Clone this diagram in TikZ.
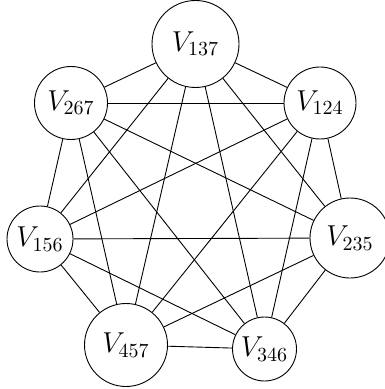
\documentclass[tikz,border=0pt]{standalone}
\begin{document}
\begin{tikzpicture}[x=0.5pt,y=-0.5pt,
  vtx/.style={circle,draw,line width=0.45pt,inner sep=1pt,font=\fontsize{14.4}{17}\selectfont},
  edge/.style={line width=0.45pt}]
\useasboundingbox (0,0) rectangle (384,389);
\node[vtx,minimum size=43.5pt] (v1) at (195.5,44) {$V_{137}$};
\node[vtx,minimum size=36pt]   (v2) at (320,103) {$V_{124}$};
\node[vtx,minimum size=40pt]   (v3) at (350,238) {$V_{235}$};
\node[vtx,minimum size=32pt]   (v4) at (264.5,349) {$V_{346}$};
\node[vtx,minimum size=41.5pt] (v5) at (126,345) {$V_{457}$};
\node[vtx,minimum size=33pt]   (v6) at (40,239) {$V_{156}$};
\node[vtx,minimum size=36.5pt] (v7) at (71,103) {$V_{267}$};
\foreach \i in {1,...,7}{
  \foreach \j in {1,...,7}{
    \ifnum\i<\j \draw[edge] (v\i) -- (v\j); \fi
  }
}
\end{tikzpicture}
\end{document}
